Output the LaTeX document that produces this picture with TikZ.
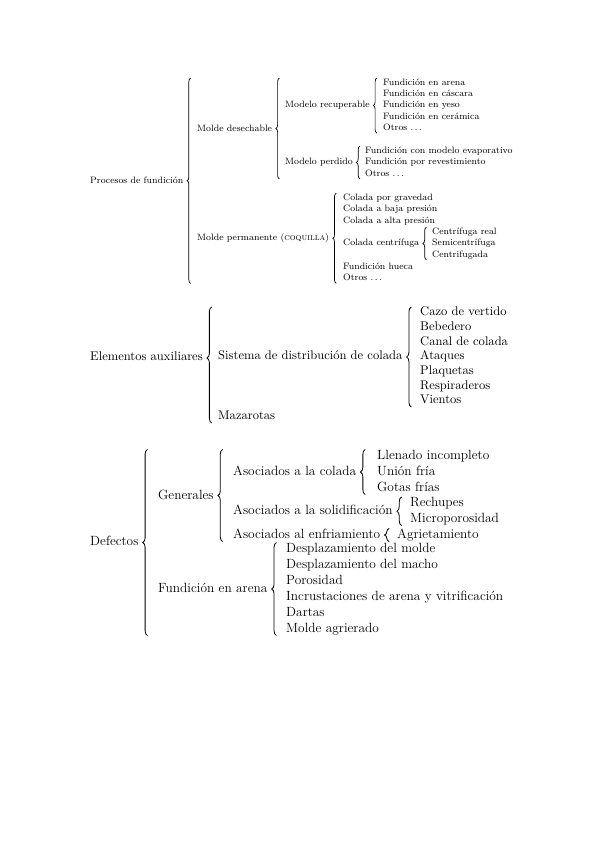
\documentclass[tikz,border=0pt]{standalone}
\usepackage{fontspec}
\usetikzlibrary{decorations.pathreplacing}

\begin{document}
\begin{tikzpicture}[x=0.03cm,y=-0.03cm,
    s1/.style={font=\fontsize{7.9}{9.5}\selectfont,inner sep=0pt,anchor=west,text height=6pt,text depth=2pt},
    s2/.style={font=\fontsize{10.7}{12.8}\selectfont,inner sep=0pt,anchor=west,text height=7.5pt,text depth=2.5pt},
    s3/.style={font=\fontsize{11.4}{13.7}\selectfont,inner sep=0pt,anchor=west,text height=8pt,text depth=2.8pt},
    brs/.style={decorate,decoration={brace,amplitude=3pt},line width=.6pt},
    brl/.style={decorate,decoration={brace,amplitude=4pt},line width=.7pt}]
  \useasboundingbox (0,0) rectangle (599,848);

  % procesos de fundicion
  \node[s1] (p0) at (90,181) {Procesos de fundición};
  \node[s1] (a1) at (197,129) {Molde desechable};
  \node[s1] (b1) at (285,105) {Modelo recuperable};
  \node[s1] (r1) at (383,83) {Fundición en arena};
  \node[s1] (r2) at (383,94.3) {Fundición en cáscara};
  \node[s1] (r3) at (383,105.6) {Fundición en yeso};
  \node[s1] (r4) at (383,116.9) {Fundición en cerámica};
  \node[s1] (r5) at (383,128.2) {Otros .\,.\,.};
  \node[s1] (b2) at (285,162.5) {Modelo perdido};
  \node[s1] (q1) at (365,151) {Fundición con modelo evaporativo};
  \node[s1] (q2) at (365,162.5) {Fundición por revestimiento};
  \node[s1] (q3) at (365,174) {Otros .\,.\,.};
  \node[s1] (a2) at (197,238.5) {Molde permanente (\textsc{coquilla})};
  \node[s1] (c1) at (343,198) {Colada por gravedad};
  \node[s1] (c2) at (343,209.5) {Colada a baja presión};
  \node[s1] (c3) at (343,221) {Colada a alta presión};
  \node[s1] (c4) at (343,243.5) {Colada centrífuga};
  \node[s1] (c5) at (343,267) {Fundición hueca};
  \node[s1] (c6) at (343,278.5) {Otros .\,.\,.};
  \node[s1] (f1) at (432,232) {Centrífuga real};
  \node[s1] (f2) at (432,243.5) {Semicentrífuga};
  \node[s1] (f3) at (432,255) {Centrifugada};
  \draw[brs] ([xshift=6pt]p0.east |- c6.south) -- ([xshift=6pt]p0.east |- r1.north);
  \draw[brs] ([xshift=6pt]a1.east |- q3.south) -- ([xshift=6pt]a1.east |- r1.north);
  \draw[brs] ([xshift=6pt]b1.east |- r5.south) -- ([xshift=6pt]b1.east |- r1.north);
  \draw[brs] ([xshift=6pt]b2.east |- q3.south) -- ([xshift=6pt]b2.east |- q1.north);
  \draw[brs] ([xshift=6pt]a2.east |- c6.south) -- ([xshift=6pt]a2.east |- c1.north);
  \draw[brs] ([xshift=6pt]c4.east |- f3.south) -- ([xshift=6pt]c4.east |- f1.north);

  % elementos auxiliares
  \node[s2] (e0) at (90,358) {Elementos auxiliares};
  \node[s2] (s0) at (218,357) {Sistema de distribución de colada};
  \node[s2] (i1) at (420,313) {Cazo de vertido};
  \node[s2] (i2) at (420,327.7) {Bebedero};
  \node[s2] (i3) at (420,342.3) {Canal de colada};
  \node[s2] (i4) at (420,357) {Ataques};
  \node[s2] (i5) at (420,371.7) {Plaquetas};
  \node[s2] (i6) at (420,386.3) {Respiraderos};
  \node[s2] (i7) at (420,401) {Vientos};
  \node[s2] (m0) at (218,417) {Mazarotas};
  \draw[brl,decoration={aspect=.56}] ([xshift=7.5pt]e0.east |- m0.south) -- ([xshift=7.5pt]e0.east |- i1.north);
  \draw[brl] ([xshift=7.5pt]s0.east |- i7.south) -- ([xshift=7.5pt]s0.east |- i1.north);

  % defectos
  \node[s3] (d0) at (90,542) {Defectos};
  \node[s3] (g0) at (158,496) {Generales};
  \node[s3] (h1) at (233,472) {Asociados a la colada};
  \node[s3] (l1) at (377,456) {Llenado incompleto};
  \node[s3] (l2) at (377,472) {Unión fría};
  \node[s3] (l3) at (377,488) {Gotas frías};
  \node[s3] (h2) at (233,511) {Asociados a la solidificación};
  \node[s3] (k1) at (410,503.5) {Rechupes};
  \node[s3] (k2) at (410,519) {Microporosidad};
  \node[s3] (h3) at (233,535) {Asociados al enfriamiento};
  \node[s3] (t1) at (397,535) {Agrietamiento};
  \node[s3] (u0) at (158,589) {Fundición en arena};
  \node[s3] (v1) at (286,549) {Desplazamiento del molde};
  \node[s3] (v2) at (286,565) {Desplazamiento del macho};
  \node[s3] (v3) at (286,581) {Porosidad};
  \node[s3] (v4) at (286,597) {Incrustaciones de arena y vitrificación};
  \node[s3] (v5) at (286,613) {Dartas};
  \node[s3] (v6) at (286,629) {Molde agrierado};
  \draw[brl] ([xshift=7.5pt]d0.east |- v6.south) -- ([xshift=7.5pt]d0.east |- l1.north);
  \draw[brl] ([xshift=7.5pt]g0.east |- h3.south) -- ([xshift=7.5pt]g0.east |- l1.north);
  \draw[brl] ([xshift=7.5pt]h1.east |- l3.south) -- ([xshift=7.5pt]h1.east |- l1.north);
  \draw[brl] ([xshift=7.5pt]h2.east |- k2.south) -- ([xshift=7.5pt]h2.east |- k1.north);
  \draw[brl] ([xshift=7.5pt]h3.east |- t1.south) -- ([xshift=7.5pt]h3.east |- t1.north);
  \draw[brl] ([xshift=7.5pt]u0.east |- v6.south) -- ([xshift=7.5pt]u0.east |- v1.north);
\end{tikzpicture}
\end{document}
